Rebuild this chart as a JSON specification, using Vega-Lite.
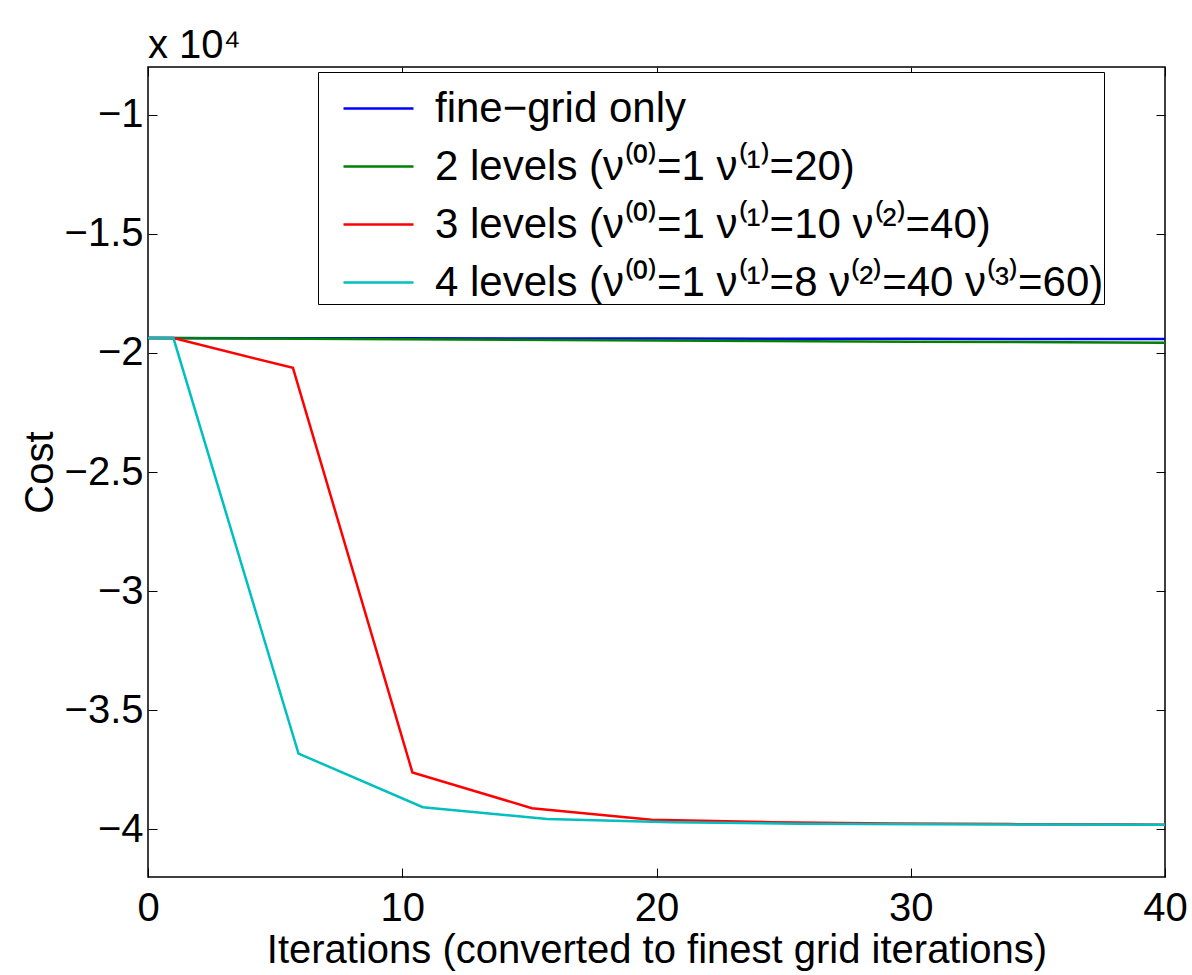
{
  "$schema": "https://vega.github.io/schema/vega-lite/v6.json",
  "width": 1017,
  "height": 810,
  "autosize": {"type": "none"},
  "padding": {"left": 148, "top": 67, "right": 27, "bottom": 98},
  "title": {"text": "x 10⁴", "anchor": "start", "frame": "group", "fontSize": 40, "font": "Liberation Sans", "fontWeight": "normal", "offset": 1, "color": "black"},
  "data": {
    "values": [
      {"series": "fine−grid only", "iter": 0, "cost": -19380},
      {"series": "fine−grid only", "iter": 10, "cost": -19390},
      {"series": "fine−grid only", "iter": 20, "cost": -19400},
      {"series": "fine−grid only", "iter": 30, "cost": -19410},
      {"series": "fine−grid only", "iter": 40, "cost": -19420},
      {"series": "2 levels (ν⁽⁰⁾=1 ν⁽¹⁾=20)", "iter": 0, "cost": -19380},
      {"series": "2 levels (ν⁽⁰⁾=1 ν⁽¹⁾=20)", "iter": 10, "cost": -19430},
      {"series": "2 levels (ν⁽⁰⁾=1 ν⁽¹⁾=20)", "iter": 20, "cost": -19480},
      {"series": "2 levels (ν⁽⁰⁾=1 ν⁽¹⁾=20)", "iter": 30, "cost": -19530},
      {"series": "2 levels (ν⁽⁰⁾=1 ν⁽¹⁾=20)", "iter": 40, "cost": -19570},
      {"series": "3 levels (ν⁽⁰⁾=1 ν⁽¹⁾=10 ν⁽²⁾=40)", "iter": 0, "cost": -19380},
      {"series": "3 levels (ν⁽⁰⁾=1 ν⁽¹⁾=10 ν⁽²⁾=40)", "iter": 1, "cost": -19380},
      {"series": "3 levels (ν⁽⁰⁾=1 ν⁽¹⁾=10 ν⁽²⁾=40)", "iter": 5.7, "cost": -20630},
      {"series": "3 levels (ν⁽⁰⁾=1 ν⁽¹⁾=10 ν⁽²⁾=40)", "iter": 10.4, "cost": -37610},
      {"series": "3 levels (ν⁽⁰⁾=1 ν⁽¹⁾=10 ν⁽²⁾=40)", "iter": 15.1, "cost": -39110},
      {"series": "3 levels (ν⁽⁰⁾=1 ν⁽¹⁾=10 ν⁽²⁾=40)", "iter": 19.8, "cost": -39600},
      {"series": "3 levels (ν⁽⁰⁾=1 ν⁽¹⁾=10 ν⁽²⁾=40)", "iter": 24.5, "cost": -39700},
      {"series": "3 levels (ν⁽⁰⁾=1 ν⁽¹⁾=10 ν⁽²⁾=40)", "iter": 29.2, "cost": -39750},
      {"series": "3 levels (ν⁽⁰⁾=1 ν⁽¹⁾=10 ν⁽²⁾=40)", "iter": 33.9, "cost": -39780},
      {"series": "3 levels (ν⁽⁰⁾=1 ν⁽¹⁾=10 ν⁽²⁾=40)", "iter": 38.6, "cost": -39800},
      {"series": "3 levels (ν⁽⁰⁾=1 ν⁽¹⁾=10 ν⁽²⁾=40)", "iter": 40, "cost": -39810},
      {"series": "4 levels (ν⁽⁰⁾=1 ν⁽¹⁾=8 ν⁽²⁾=40 ν⁽³⁾=60)", "iter": 0, "cost": -19380},
      {"series": "4 levels (ν⁽⁰⁾=1 ν⁽¹⁾=8 ν⁽²⁾=40 ν⁽³⁾=60)", "iter": 1, "cost": -19380},
      {"series": "4 levels (ν⁽⁰⁾=1 ν⁽¹⁾=8 ν⁽²⁾=40 ν⁽³⁾=60)", "iter": 5.92, "cost": -36820},
      {"series": "4 levels (ν⁽⁰⁾=1 ν⁽¹⁾=8 ν⁽²⁾=40 ν⁽³⁾=60)", "iter": 10.81, "cost": -39070},
      {"series": "4 levels (ν⁽⁰⁾=1 ν⁽¹⁾=8 ν⁽²⁾=40 ν⁽³⁾=60)", "iter": 15.7, "cost": -39570},
      {"series": "4 levels (ν⁽⁰⁾=1 ν⁽¹⁾=8 ν⁽²⁾=40 ν⁽³⁾=60)", "iter": 20.6, "cost": -39700},
      {"series": "4 levels (ν⁽⁰⁾=1 ν⁽¹⁾=8 ν⁽²⁾=40 ν⁽³⁾=60)", "iter": 25.5, "cost": -39760},
      {"series": "4 levels (ν⁽⁰⁾=1 ν⁽¹⁾=8 ν⁽²⁾=40 ν⁽³⁾=60)", "iter": 30.4, "cost": -39790},
      {"series": "4 levels (ν⁽⁰⁾=1 ν⁽¹⁾=8 ν⁽²⁾=40 ν⁽³⁾=60)", "iter": 35.3, "cost": -39800},
      {"series": "4 levels (ν⁽⁰⁾=1 ν⁽¹⁾=8 ν⁽²⁾=40 ν⁽³⁾=60)", "iter": 40, "cost": -39810}
    ]
  },
  "layer": [
    {
      "mark": {"type": "line", "strokeWidth": 2.5, "clip": true},
      "encoding": {
        "x": {"field": "iter", "type": "quantitative", "scale": {"domain": [0, 40], "nice": false, "zero": false},
              "axis": {"orient": "bottom", "values": [0, 10, 20, 30, 40], "title": "Iterations (converted to finest grid iterations)", "labelPadding": 20, "labelFlush": false, "titlePadding": 2}},
        "y": {"field": "cost", "type": "quantitative", "scale": {"domain": [-42000, -8000], "nice": false, "zero": false},
              "axis": {"orient": "left", "values": [-40000, -35000, -30000, -25000, -20000, -15000, -10000], "labelExpr": "format(datum.value/10000, '~g')", "title": "Cost", "labelPadding": 14, "labelFlush": false, "titlePadding": 4}},
        "color": {"field": "series", "type": "nominal",
                  "scale": {"domain": ["fine−grid only", "2 levels (ν⁽⁰⁾=1 ν⁽¹⁾=20)", "3 levels (ν⁽⁰⁾=1 ν⁽¹⁾=10 ν⁽²⁾=40)", "4 levels (ν⁽⁰⁾=1 ν⁽¹⁾=8 ν⁽²⁾=40 ν⁽³⁾=60)"],
                            "range": ["#0000ff", "#008000", "#ff0000", "#00bfbf"]},
                  "legend": {"title": null, "orient": "none", "legendX": 170, "legendY": 5, "symbolType": "stroke", "symbolSize": 4900, "symbolStrokeWidth": 2.5,
                             "labelFontSize": 42, "labelLimit": 1200, "labelColor": "black", "labelFont": "Liberation Sans", "strokeColor": "black", "fillColor": "white",
                             "padding": 0, "symbolOffset": 24, "rowPadding": -4, "labelOffset": 20}}
      }
    },
    {
      "mark": {"type": "line", "opacity": 0},
      "encoding": {
        "x": {"field": "iter", "type": "quantitative", "axis": {"orient": "top", "values": [0, 10, 20, 30, 40], "labels": false, "title": null}},
        "y": {"field": "cost", "type": "quantitative", "axis": {"orient": "right", "values": [-40000, -35000, -30000, -25000, -20000, -15000, -10000], "labels": false, "title": null}}
      }
    }
  ],
  "resolve": {"axis": {"x": "independent", "y": "independent"}},
  "config": {
    "font": "Liberation Sans",
    "view": {"stroke": "black", "strokeWidth": 1.5},
    "axis": {"domain": false, "grid": false, "ticks": true, "tickSize": -9, "tickColor": "black", "tickWidth": 1,
             "labelFontSize": 40, "labelColor": "black", "labelFont": "Liberation Sans",
             "titleFontSize": 40, "titleColor": "black", "titleFontWeight": "normal", "titleFont": "Liberation Sans"}
  }
}
